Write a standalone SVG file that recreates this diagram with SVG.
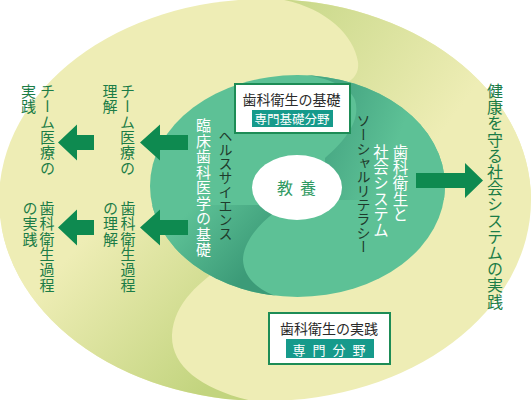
<svg xmlns="http://www.w3.org/2000/svg" width="531" height="400" viewBox="0 0 531 400">
<style>
text{font-family:"Noto Sans CJK JP","Noto Sans",sans-serif;}
.v{writing-mode:vertical-rl;}
.g{fill:#1b7c47;font-size:15px;letter-spacing:0.3px;}
.w{fill:#ffffff;}
.d{fill:#1f3b2c;font-size:14px;}
.box{fill:#ffffff;stroke:#1d8c56;stroke-width:2;}
.teal{fill:#169a8b;}
.ttl{fill:#2a2a2a;font-size:14px;}
.arrow{fill:#0e8a50;}
</style>
<defs>
<clipPath id="outerClip"><ellipse cx="265" cy="200" rx="266" ry="201"/></clipPath>
<clipPath id="innerClip"><ellipse cx="297.5" cy="186" rx="147.5" ry="111"/></clipPath>
<linearGradient id="gTopOuter" gradientUnits="userSpaceOnUse" x1="300" y1="0" x2="455" y2="115">
<stop offset="0" stop-color="#cad98b"/><stop offset="1" stop-color="#eeedb5"/>
</linearGradient>
<linearGradient id="gBotOuter" gradientUnits="userSpaceOnUse" x1="210" y1="385" x2="70" y2="255">
<stop offset="0" stop-color="#c2d47e"/><stop offset="1" stop-color="#eeedb5"/>
</linearGradient>
<linearGradient id="gTopInner" gradientUnits="userSpaceOnUse" x1="335" y1="110" x2="400" y2="135">
<stop offset="0" stop-color="#47a783"/><stop offset="1" stop-color="#5dc196"/>
</linearGradient>
<linearGradient id="gBotInner" gradientUnits="userSpaceOnUse" x1="248" y1="272" x2="185" y2="215">
<stop offset="0" stop-color="#3c9b78"/><stop offset="1" stop-color="#5dc196"/>
</linearGradient>
</defs>

<g id="background">
<ellipse cx="265" cy="200" rx="266" ry="201" fill="#eeedb5"/>
<g clip-path="url(#outerClip)">
<path d="M271,-2 C320,3 354,33 358,62 C360,78 346,86 330,88 L330,200 L540,200 L540,-2 Z" fill="url(#gTopOuter)"/>
<path d="M228,262 C200,282 174,302 172,335 C171,368 205,392 262,403 L-5,403 L-5,230 L228,230 Z" fill="url(#gBotOuter)"/>
</g>
<ellipse cx="297.5" cy="186" rx="147.5" ry="111" fill="#5dc196"/>
<g clip-path="url(#innerClip)">
<path d="M280,72 C318,74 349,84 355,100 C361,120 346,140 325,158 L325,200 L450,200 L450,60 Z" fill="url(#gTopInner)"/>
<path d="M275,212 C255,227 243,245 243,260 C244,280 262,295 295,301 L140,301 L140,205 L275,205 Z" fill="url(#gBotInner)"/>
</g>
</g>

<g id="connectors">
<polygon class="arrow" points="140,142.5 160,124.5 160,135 188,135 188,150 160,150 160,160.5"/>
<polygon class="arrow" points="58,142.5 77,124.5 77,135 94,135 94,150 77,150 77,160.5"/>
<polygon class="arrow" points="140,227.5 160,209.5 160,220 188,220 188,235 160,235 160,245.5"/>
<polygon class="arrow" points="58,227.5 77,209.5 77,220 94,220 94,235 77,235 77,245.5"/>
<polygon class="arrow" points="416,173 465,173 465,163 483,180.5 465,198 465,188 416,188"/>
</g>

<g id="node-kyoyo">
<ellipse cx="297" cy="187.5" rx="45" ry="32.5" fill="#ffffff"/>
<text x="277" y="193.5" style="font-size:16px;letter-spacing:7px;fill:#2f9a63;">教養</text>
</g>

<g id="node-kiso">
<rect class="box" x="235" y="84" width="115" height="49"/>
<text class="ttl" x="242.5" y="105">歯科衛生の基礎</text>
<rect class="teal" x="252" y="110" width="81" height="17"/>
<text class="w" x="254.5" y="123.5" style="font-size:12.5px;">専門基礎分野</text>
</g>

<g id="node-jissen">
<rect class="box" x="269" y="313" width="121" height="51"/>
<text class="ttl" x="280" y="334">歯科衛生の実践</text>
<rect class="teal" x="286" y="339" width="88" height="19"/>
<text class="w" x="292.5" y="354.5" style="font-size:13px;letter-spacing:7px;">専門分野</text>
</g>

<g id="node-rinsho">
<text class="v w" x="203.5" y="118" style="font-size:15px;letter-spacing:0.5px;">臨床歯科医学の基礎</text>
</g>
<g id="node-health">
<text class="v d" x="225.5" y="129">ヘルスサイエンス</text>
</g>
<g id="node-social-literacy">
<text class="v d" x="363.5" y="114">ソーシャルリテラシー</text>
</g>
<g id="node-shakai">
<text class="v w" x="400.5" y="144" style="font-size:15.5px;letter-spacing:0.2px;">歯科衛生と</text>
<text class="v w" x="381" y="144" style="font-size:15.5px;letter-spacing:0.2px;">社会システム</text>
</g>

<g id="node-team-rikai">
<text class="v g" x="127.5" y="84">チーム医療の</text>
<text class="v g" x="110" y="84">理解</text>
</g>
<g id="node-team-jissen">
<text class="v g" x="47.5" y="84">チーム医療の</text>
<text class="v g" x="28.5" y="84">実践</text>
</g>
<g id="node-katei-rikai">
<text class="v g" x="128" y="201">歯科衛生過程</text>
<text class="v g" x="110.5" y="201">の理解</text>
</g>
<g id="node-katei-jissen">
<text class="v g" x="47" y="201">歯科衛生過程</text>
<text class="v g" x="30" y="201">の実践</text>
</g>
<g id="node-kenko">
<text class="v g" x="495" y="83" style="font-size:16px;letter-spacing:0.2px;">健康を守る社会システムの実践</text>
</g>
</svg>
